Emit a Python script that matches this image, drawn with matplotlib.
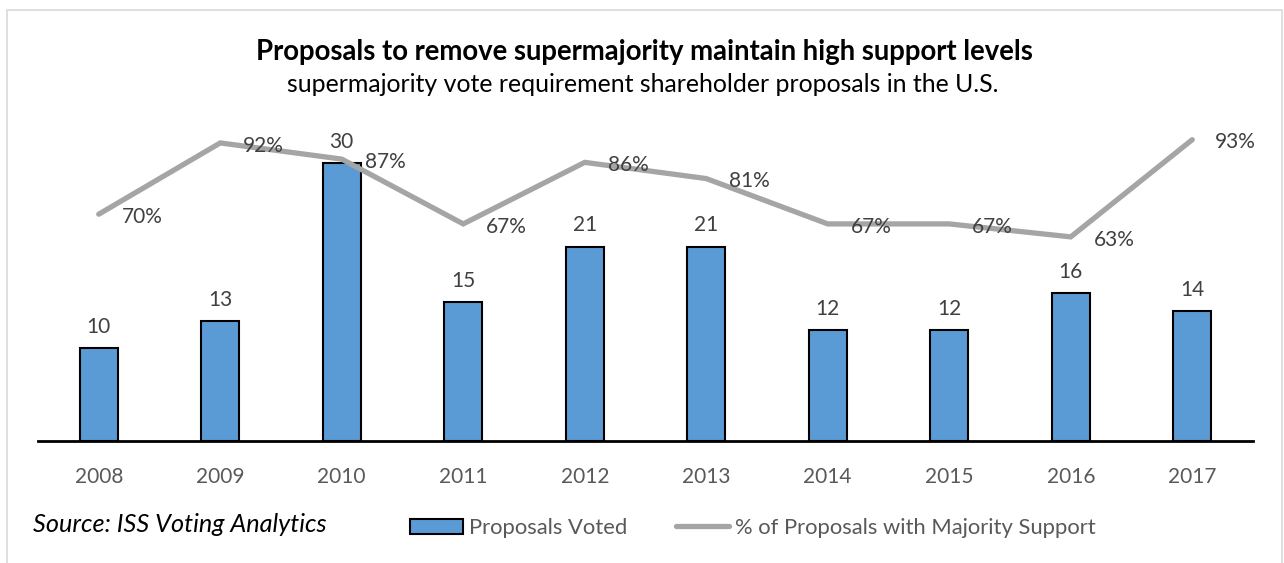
import matplotlib.pyplot as plt
from matplotlib.patches import Rectangle
from matplotlib.lines import Line2D

years = ["2008", "2009", "2010", "2011", "2012", "2013", "2014", "2015", "2016", "2017"]
proposals_voted = [10, 13, 30, 15, 21, 21, 12, 12, 16, 14]
majority_support = [70, 92, 87, 67, 86, 81, 67, 67, 63, 93]

plt.rcParams['font.family'] = ['Lato', 'DejaVu Sans']
text_grey = "#595959"
bar_blue = "#5B9BD5"
line_grey = "#A5A5A5"

fig = plt.figure(figsize=(12.84, 5.63), dpi=100)
W, H = 1284, 563

# light frame around the chart area
fig.patches.append(Rectangle((7 / W, -0.1), (1282 - 7) / W, 1.1 - 10 / H,
                             transform=fig.transFigure, fill=False,
                             edgecolor="#D9D9D9", linewidth=1.2))

ax = fig.add_axes([38 / W, 1 - 441 / H, (1253 - 38) / W, (441 - 117) / H])
ax2 = ax.twinx()

x = list(range(len(years)))
ax.bar(x, proposals_voted, width=0.31, color=bar_blue, edgecolor="black", linewidth=1.5, zorder=2)
for xi, v in zip(x, proposals_voted):
    ax.annotate(str(v), (xi, v), xytext=(0, 8), textcoords="offset points",
                ha="center", va="bottom", fontsize=15, color="#404040")

ax.set_xlim(-0.5, len(years) - 0.5)
ax.set_ylim(0, 35)
ax.set_yticks([])
ax.set_xticks(x)
ax.set_xticklabels(years, fontsize=15, color=text_grey)
ax.tick_params(axis="x", length=0, pad=19)
for s in ["top", "right", "left"]:
    ax.spines[s].set_visible(False)
ax.spines["bottom"].set_linewidth(2)
ax.spines["bottom"].set_color("black")

ax2.plot(x, majority_support, color=line_grey, linewidth=3.8, solid_capstyle="round",
         solid_joinstyle="miter", zorder=3)
for xi, v in zip(x, majority_support):
    ax2.annotate(f"{v}%", (xi, v), xytext=(16.5, -2), textcoords="offset points",
                 ha="left", va="center", fontsize=15, color="#404040")
ax2.set_ylim(0, 100)
ax2.set_yticks([])
for s in ["top", "right", "left", "bottom"]:
    ax2.spines[s].set_visible(False)

fig.text(644 / W, 1 - 52 / H, "Proposals to remove supermajority maintain high support levels",
         ha="center", va="center", fontsize=19.8, fontweight="bold", color="black")
fig.text(643 / W, 1 - 85 / H, "supermajority vote requirement shareholder proposals in the U.S.",
         ha="center", va="center", fontsize=17.9, color="black")

fig.text(33 / W, 1 - 525 / H, "Source: ISS Voting Analytics", ha="left", va="center",
         fontsize=18.2, style="italic", color="black")

handles = [Rectangle((0, 0), 1, 1, facecolor=bar_blue, edgecolor="black", linewidth=1.5),
           Line2D([0], [0], color=line_grey, linewidth=3.8, solid_capstyle="round")]
fig.legend(handles, ["Proposals Voted", "% of Proposals with Majority Support"],
           loc="center left", bbox_to_anchor=(410 / W, 1 - 528 / H), ncol=2, frameon=False,
           fontsize=15.8, labelcolor=text_grey, handlelength=2.4, handletextpad=0.27,
           columnspacing=2.25, borderpad=0, borderaxespad=0)

fig.savefig("out.png", dpi=100)
